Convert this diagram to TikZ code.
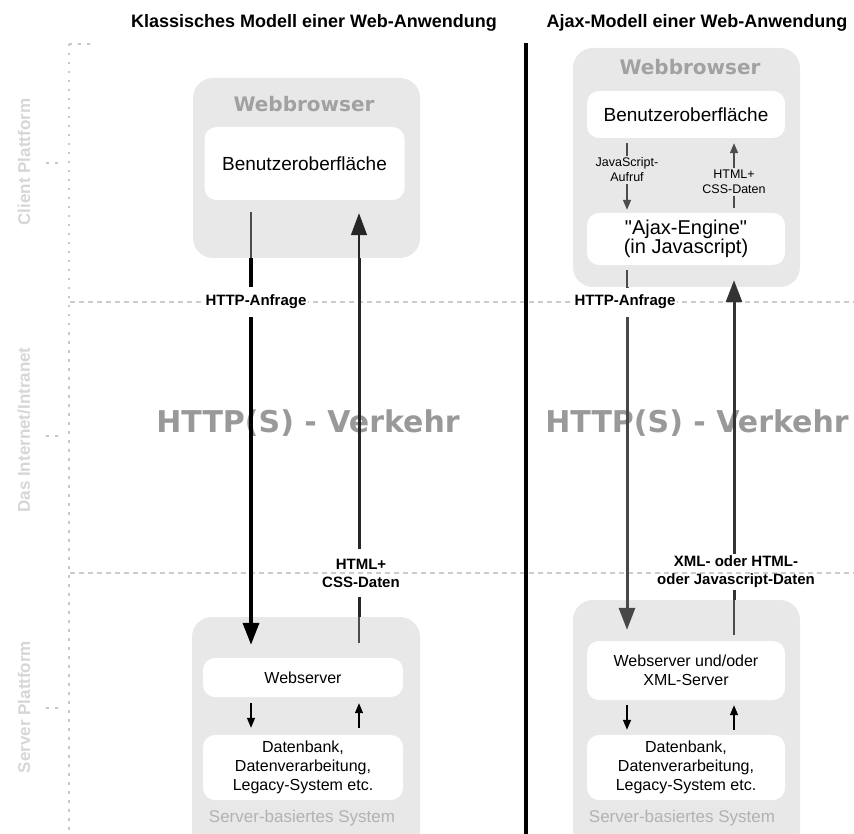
\documentclass[tikz,border=0pt]{standalone}
\usepackage{fontspec}
\setmainfont{Liberation Sans}
\newfontfamily\dejavu{DejaVu Sans}
\usetikzlibrary{arrows.meta,positioning}
\newcommand{\fntsz}[2]{\fontsize{#1}{#2}\selectfont}

\begin{document}
\begin{tikzpicture}[x=1pt,y=-1pt]

% colours and node styles
\colorlet{boxgray}{black!9}
\tikzstyle{outer} = [fill=boxgray, rounded corners=20pt, inner sep=0pt];
\tikzstyle{inner} = [fill=white, rounded corners=12pt, inner sep=0pt,
	align=center, font=\fntsz{16}{19}];
\tikzstyle{lbl} = [font=\bfseries\fntsz{15}{18}, align=center,
	inner xsep=2pt, inner ysep=2pt];
\tikzstyle{small} = [font=\fntsz{12.5}{15}, align=center, inner sep=2pt];
\tikzstyle{title} = [font=\bfseries\fntsz{18}{18}, anchor=base];
\tikzstyle{side} = [text=black!16, font=\bfseries\fntsz{17}{17}, rotate=90];
\tikzstyle{head} = [text=black!37, font=\dejavu\bfseries\fntsz{20}{20}, anchor=base];
\tikzstyle{foot} = [text=black!30, font=\fntsz{17}{17}, anchor=base];
\tikzstyle{traffic} = [text=black!40, font=\dejavu\bfseries\fntsz{30}{30}, anchor=base];
\tikzstyle{net} = [draw=black!20, line width=1.5pt, dash pattern=on 5pt off 4pt];
\tikzstyle{rule} = [draw=black!22, line width=2.5pt, dash pattern=on 2.5pt off 6.5pt];
\tikzstyle{thinline} = [draw=black!70, line width=1.5pt];
\tikzstyle{big} = [-{Triangle[length=22pt,width=16pt]}];
\tikzstyle{tip} = [-{Triangle[length=10pt,width=8pt]}];

\clip (0,0) rectangle (854,834);

% columns of the arrows
\coordinate (cL1) at (251,0);
\coordinate (cL2) at (359,0);
\coordinate (cR1) at (627,0);
\coordinate (cR2) at (734,0);

% layer borders
\coordinate (n1) at (70,302);
\coordinate (n1e) at (854,302);
\coordinate (n2) at (70,573);
\coordinate (n2e) at (854,573);
\draw[net] (n1) -- (n1e);
\draw[net] (n2) -- (n2e);

% rule on the left
\coordinate (s0) at (69,44);
\coordinate (s0e) at (92,44);
\coordinate (s1) at (69,834);
\draw[rule] (s0) -- (s1);
\draw[rule] (s0) -- (s0e);
\foreach \y/\n in {163/t1,436/t2,708/t3} {
	\coordinate (\n) at (46,\y);
	\coordinate (\n e) at (62,\y);
	\draw[rule] (\n) -- (\n e);
}
\node[side] (client) at (24,162) {Client Plattform};
\node[side] (inet) at (24,430) {Das Internet/Intranet};
\node[side] (server) at (24,707) {Server Plattform};

% titles and middle line
\node[title] (tL) at (314,28) {Klassisches Modell einer Web-Anwendung};
\node[title] (tR) at (697,28) {Ajax-Modell einer Web-Anwendung};
\coordinate (m0) at (526,43);
\coordinate (m1) at (526,834);
\draw[line width=4pt] (m0) -- (m1);

\node[traffic] (vL) at (308,432) {HTTP(S) - Verkehr};
\node[traffic] (vR) at (697,432) {HTTP(S) - Verkehr};

% outer boxes
\node[outer,minimum width=227,minimum height=180] (bwL) at (306.5,168) {};
\node[outer,minimum width=227,minimum height=239] (bwR) at (686.5,167.5) {};
\node[outer,minimum width=228,minimum height=233] (svL) at (306,733.5) {};
\node[outer,minimum width=227,minimum height=250] (svR) at (686.5,725) {};
\node[head] (hbL) at (304,112) {Webbrowser};
\node[head] (hbR) at (690,75) {Webbrowser};
\node[foot] (fsL) at (302,822) {Server-basiertes System};
\node[foot] (fsR) at (682,822) {Server-basiertes System};

% inner boxes
\node[inner,minimum width=200,minimum height=73,font=\fntsz{19}{22}] (uiL) at (304.5,163.5) {Benutzeroberfläche};
\node[inner,minimum width=198,minimum height=47,font=\fntsz{19}{22}] (uiR) at (686,114.5) {Benutzeroberfläche};
\node[inner,minimum width=198,minimum height=52,font=\fntsz{20}{19}] (ajax) at (686,239) {\textquotedbl Ajax-Engine\textquotedbl\\(in Javascript)};
\node[inner,minimum width=200,minimum height=39] (wsL) at (303,677.5) {Webserver};
\node[inner,minimum width=200,minimum height=65] (dbL) at (303,767.5) {Datenbank,\\Datenverarbeitung,\\Legacy-System etc.};
\node[inner,minimum width=198,minimum height=59] (wsR) at (686,670.5) {Webserver und/oder\\XML-Server};
\node[inner,minimum width=198,minimum height=65] (dbR) at (686,767.5) {Datenbank,\\Datenverarbeitung,\\Legacy-System etc.};

% labels of the arrows
\node[lbl,fill=white,inner ysep=8pt] (reqL) at ([xshift=5]cL1 |- n1) {HTTP-Anfrage};
\node[lbl,fill=white,inner ysep=8pt] (reqR) at ([xshift=-2]cR1 |- n1) {HTTP-Anfrage};
\node[lbl,inner ysep=10pt] (dataL) at ([xshift=2]cL2 |- n2) {HTML+\\CSS-Daten};
\node[lbl] (dataR) at ([xshift=2,yshift=1]cR2 |- n2) {XML- oder HTML-\\oder Javascript-Daten};
\node[small] (js) at (627,170) {JavaScript-\\Aufruf};
\node[small] (hc) at (734,182) {HTML+\\CSS-Daten};

% classic model
\draw[thinline,shorten <=12pt] (uiL.south -| cL1) -- (bwL.south -| cL1);
\draw[line width=3.5pt] (bwL.south -| cL1) -- (reqL.north -| cL1);
\draw[line width=3.5pt,big,shorten >=13pt] (reqL.south -| cL1) -- (wsL.north -| cL1);
\draw[thinline,shorten <=15pt] (wsL.north -| cL2) -- (svL.north -| cL2);
\draw[line width=3pt,draw=black!85] (svL.north -| cL2) -- (dataL.south -| cL2);
\draw[line width=3pt,draw=black!85] (dataL.north -| cL2) -- (bwL.south -| cL2);
\draw[thinline,draw=black!85,big,shorten >=13pt] (bwL.south -| cL2) -- (uiL.south -| cL2);
\draw[thinline,draw=black,tip,shorten <=6pt,shorten >=7pt] (wsL.south -| cL1) -- (dbL.north -| cL1);
\draw[thinline,draw=black,tip,shorten <=7pt,shorten >=6pt] (dbL.north -| cL2) -- (wsL.south -| cL2);

% ajax model
\draw[thinline,shorten <=5pt] (uiR.south -| cR1) -- (js.north -| cR1);
\draw[thinline,tip,shorten >=3pt] (js.south -| cR1) -- (ajax.north -| cR1);
\draw[thinline,shorten <=5pt] (ajax.north -| cR2) -- (hc.south -| cR2);
\draw[thinline,tip,shorten >=5pt] (hc.north -| cR2) -- (uiR.south -| cR2);
\draw[thinline,shorten <=5pt] (ajax.south -| cR1) -- (bwR.south -| cR1);
\draw[line width=3pt,draw=black!72] (bwR.south -| cR1) -- (reqR.north -| cR1);
\draw[line width=3pt,draw=black!72,big,shorten >=11pt] (reqR.south -| cR1) -- (wsR.north -| cR1);
\draw[thinline,shorten <=6pt] (wsR.north -| cR2) -- (svR.north -| cR2);
\draw[line width=3pt,draw=black!80] (svR.north -| cR2) -- (dataR.south -| cR2);
\draw[line width=3pt,draw=black!80,big] (dataR.north -| cR2) -- ([yshift=7]bwR.south -| cR2);
\draw[thinline,draw=black,tip,shorten <=5pt,shorten >=5pt] (wsR.south -| cR1) -- (dbR.north -| cR1);
\draw[thinline,draw=black,tip,shorten <=5pt,shorten >=5pt] (dbR.north -| cR2) -- (wsR.south -| cR2);

\end{tikzpicture}
\end{document}
